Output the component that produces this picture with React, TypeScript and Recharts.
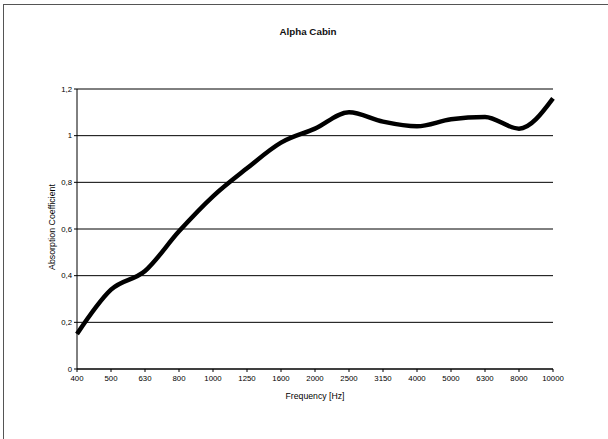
import { CartesianGrid, Line, LineChart, XAxis, YAxis } from "recharts";

const frequencies = ["400", "500", "630", "800", "1000", "1250", "1600", "2000", "2500", "3150", "4000", "5000", "6300", "8000", "10000"];
const absorption = [0.15, 0.34, 0.42, 0.59, 0.74, 0.86, 0.97, 1.03, 1.1, 1.06, 1.04, 1.07, 1.08, 1.03, 1.16];
const yTicks = [0, 0.2, 0.4, 0.6, 0.8, 1, 1.2];

const data = frequencies.map((freq, i) => ({ freq, alpha: absorption[i] }));

const FONT = "'Liberation Sans', Arial, sans-serif";
const tickStyle = { fontSize: 7.8, fill: "#000", fontFamily: FONT };

export default function App() {
  return (
    <div style={{ position: "absolute", left: 0, top: 0, width: 608, height: 439, background: "#fff" }}>
      {/* outer frame, only top and left edges are visible in the crop */}
      <div
        style={{
          position: "absolute",
          left: 3,
          top: 4,
          width: 605,
          height: 435,
          borderTop: "1.5px solid #555",
          borderLeft: "1.5px solid #555",
          boxSizing: "border-box",
        }}
      />
      <div
        style={{
          position: "absolute",
          left: 0,
          top: 26,
          width: 616,
          textAlign: "center",
          fontFamily: FONT,
          fontWeight: "bold",
          fontSize: 9.8,
          color: "#111",
        }}
      >
        Alpha Cabin
      </div>
      <LineChart
        width={608}
        height={439}
        data={data}
        margin={{ top: 89, right: 55, bottom: 30, left: 37 }}
        style={{ position: "absolute", left: 0, top: 0 }}
      >
        <CartesianGrid vertical={false} stroke="#000" strokeWidth={1} />
        <XAxis
          dataKey="freq"
          interval={0}
          height={40}
          tick={tickStyle}
          tickSize={3}
          tickMargin={3}
          stroke="#000"
          label={({ viewBox }: any) => (
            <text
              x={viewBox.x + viewBox.width / 2}
              y={viewBox.y + 28}
              textAnchor="middle"
              dominantBaseline="middle"
              style={{ fontSize: 8.7, fontFamily: FONT, fill: "#000" }}
            >
              Frequency [Hz]
            </text>
          )}
        />
        <YAxis
          width={40}
          domain={[0, 1.2]}
          ticks={yTicks}
          tick={tickStyle}
          tickSize={3}
          tickMargin={2}
          stroke="#000"
          tickFormatter={(v: number) => String(v).replace(".", ",")}
          label={({ viewBox }: any) => {
            const cx = viewBox.x + viewBox.width - 24;
            const cy = viewBox.y + viewBox.height / 2 - 2;
            return (
              <text
                x={cx}
                y={cy}
                transform={`rotate(-90 ${cx} ${cy})`}
                textAnchor="middle"
                dominantBaseline="middle"
                style={{ fontSize: 8.8, fontFamily: FONT, fill: "#000" }}
              >
                Absorption Coefficient
              </text>
            );
          }}
        />
        <YAxis yAxisId="frame" orientation="right" width={0} tick={false} tickLine={false} stroke="#000" />
        <Line
          type="monotone"
          dataKey="alpha"
          stroke="#000"
          strokeWidth={4.5}
          dot={false}
          isAnimationActive={false}
        />
      </LineChart>
    </div>
  );
}
